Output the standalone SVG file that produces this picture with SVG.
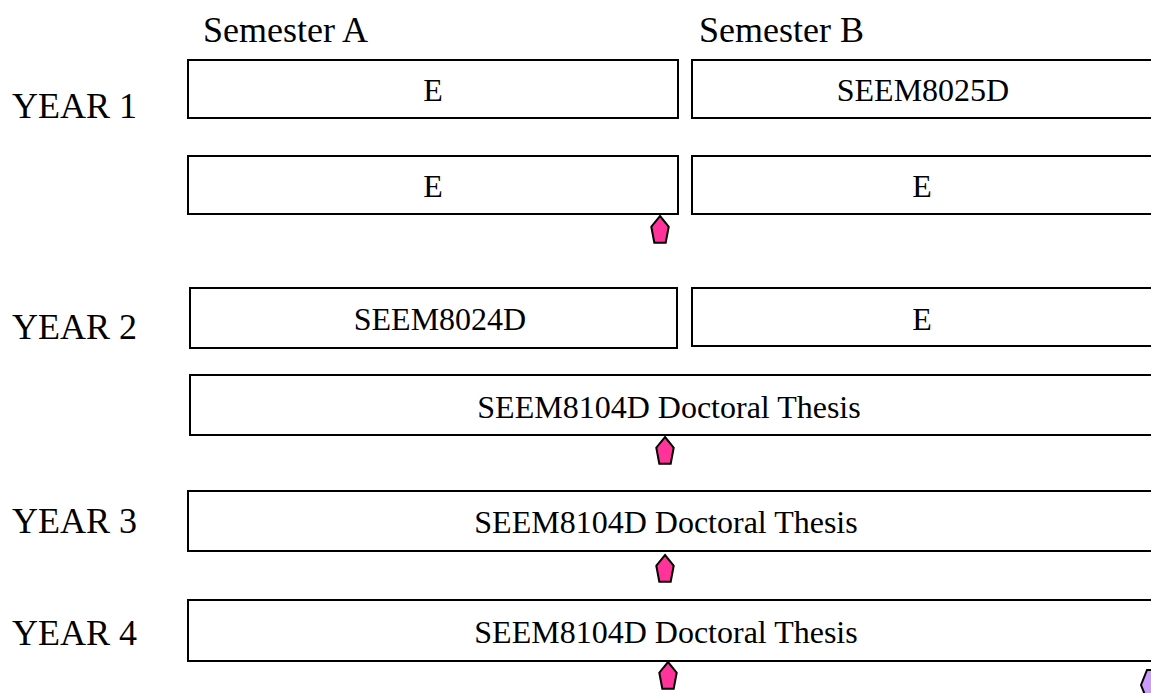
<svg xmlns="http://www.w3.org/2000/svg" xmlns:xlink="http://www.w3.org/1999/xlink" width="1151" height="693" viewBox="0 0 1151 693">
<style>
  .box { fill: #ffffff; stroke: #000000; stroke-width: 2; }
  .lbl { font-family: "Liberation Serif", "Times New Roman", serif; font-size: 36px; fill: #000000; }
  .txt { font-family: "Liberation Serif", "Times New Roman", serif; font-size: 32px; fill: #000000; text-anchor: middle; }
  .pin { fill: #FF3399; stroke: #000000; stroke-width: 2; stroke-linejoin: miter; }
  .pin2 { fill: #CC99FF; stroke: #000000; stroke-width: 2; }
</style>
<defs>
  <path id="pent" d="M0,0 L8.7,10.7 L5.7,26.7 L-5.7,26.7 L-8.7,10.7 Z"/>
</defs>
<rect x="0" y="0" width="1151" height="693" fill="#ffffff"/>

<g id="headers">
  <text class="lbl" x="203" y="42">Semester A</text>
  <text class="lbl" x="699" y="42">Semester B</text>
</g>

<g id="year-labels">
  <text class="lbl" x="12" y="118">YEAR 1</text>
  <text class="lbl" x="12" y="339">YEAR 2</text>
  <text class="lbl" x="12" y="533">YEAR 3</text>
  <text class="lbl" x="12" y="645">YEAR 4</text>
</g>

<g id="y1-a1">
  <rect class="box" x="188" y="60" width="490" height="58"/>
  <text class="txt" x="433" y="101">E</text>
</g>
<g id="y1-b1">
  <rect class="box" x="692" y="60" width="480" height="58"/>
  <text class="txt" x="923" y="101">SEEM8025D</text>
</g>
<g id="y1-a2">
  <rect class="box" x="188" y="156" width="490" height="58"/>
  <text class="txt" x="433" y="197">E</text>
</g>
<g id="y1-b2">
  <rect class="box" x="692" y="156" width="480" height="58"/>
  <text class="txt" x="922" y="197">E</text>
</g>

<g id="y2-a">
  <rect class="box" x="190" y="288" width="487" height="60"/>
  <text class="txt" x="440" y="330">SEEM8024D</text>
</g>
<g id="y2-b">
  <rect class="box" x="692" y="288" width="480" height="58"/>
  <text class="txt" x="922" y="330">E</text>
</g>
<g id="y2-thesis">
  <rect class="box" x="190" y="375" width="982" height="60"/>
  <text class="txt" x="669" y="418">SEEM8104D Doctoral Thesis</text>
</g>
<g id="y3-thesis">
  <rect class="box" x="188" y="491" width="984" height="60"/>
  <text class="txt" x="666" y="533">SEEM8104D Doctoral Thesis</text>
</g>
<g id="y4-thesis">
  <rect class="box" x="188" y="600" width="984" height="61"/>
  <text class="txt" x="666" y="643">SEEM8104D Doctoral Thesis</text>
</g>

<g id="milestones">
  <use xlink:href="#pent" class="pin" transform="translate(660,216)"/>
  <use xlink:href="#pent" class="pin" transform="translate(665,437)"/>
  <use xlink:href="#pent" class="pin" transform="translate(665,555)"/>
  <use xlink:href="#pent" class="pin" transform="translate(668,662)"/>
  <polygon class="pin2" points="1141,685 1147,670 1165,670 1165,700 1147,700"/>
</g>

<g id="connectors"></g>
</svg>
